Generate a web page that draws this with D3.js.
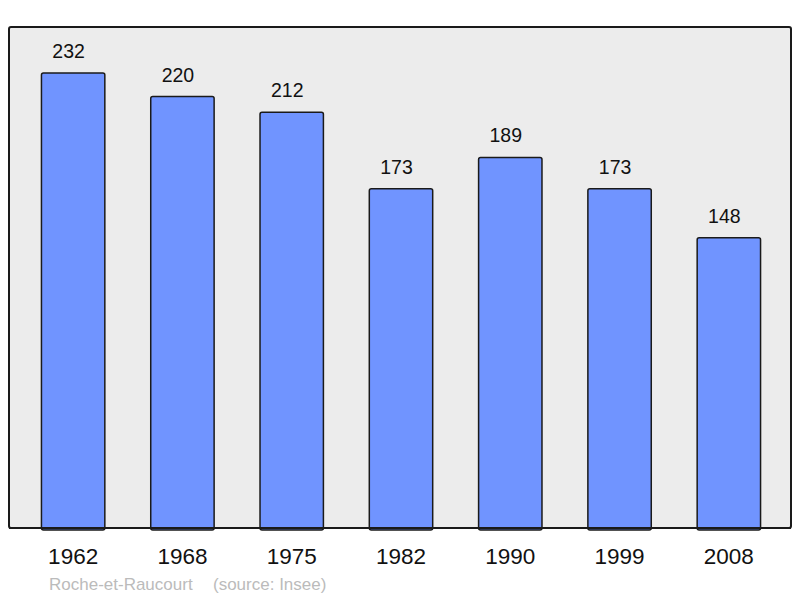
<!DOCTYPE html>
<html>
<head>
<meta charset="utf-8">
<script src="https://d3js.org/d3.v7.min.js"></script>
<style>
  body { margin: 0; background: #fff; }
  svg { display: block; font-family: "Liberation Sans", Arial, sans-serif; }
</style>
</head>
<body>
<svg id="chart" width="800" height="598"></svg>
<script>
const years = ["1962", "1968", "1975", "1982", "1990", "1999", "2008"];
const population = [232, 220, 212, 173, 189, 173, 148];
const caption = "Roche-et-Raucourt";
const source = "(source: Insee)";

const width = 800, height = 598;
const frame = { x: 9, y: 27, w: 782, h: 501 };

const svg = d3.select("#chart");

const x = d3.scaleBand()
    .domain(years)
    .range([18.5, 783.5])
    .paddingInner(0.42)
    .paddingOuter(0.21);

const y = d3.scaleLinear()
    .domain([0, 255.5])
    .range([frame.y + frame.h, frame.y]);

// frame
svg.append("rect")
    .attr("x", frame.x)
    .attr("y", frame.y)
    .attr("width", frame.w)
    .attr("height", frame.h)
    .attr("rx", 2)
    .attr("fill", "#ececec")
    .attr("stroke", "#1a1a1a")
    .attr("stroke-width", 2);

const data = years.map((d, i) => ({ year: d, value: population[i] }));

// bars
svg.append("g").selectAll("rect")
    .data(data)
    .join("rect")
    .attr("x", d => x(d.year))
    .attr("y", d => y(d.value))
    .attr("width", x.bandwidth())
    .attr("height", d => y(0) - y(d.value) + 2)
    .attr("rx", 2)
    .attr("fill", "#7094ff")
    .attr("stroke", "#1a1a1a")
    .attr("stroke-width", 1.5);

// redraw bottom line of frame over bars
svg.append("line")
    .attr("x1", frame.x)
    .attr("x2", frame.x + frame.w)
    .attr("y1", frame.y + frame.h)
    .attr("y2", frame.y + frame.h)
    .attr("stroke", "#1a1a1a")
    .attr("stroke-width", 2);

// value labels (sit a little left of bar centre, as in the original)
svg.append("g").selectAll("text")
    .data(data)
    .join("text")
    .attr("x", d => x(d.year) + x.bandwidth() / 2 - 4.5)
    .attr("y", d => y(d.value) - 15)
    .attr("text-anchor", "middle")
    .attr("font-size", 19.5)
    .attr("fill", "#111")
    .text(d => d.value);

// x axis labels
const xAxis = d3.axisBottom(x).tickSize(0).tickPadding(0);
const gx = svg.append("g")
    .attr("transform", `translate(0,${frame.y + frame.h})`)
    .call(xAxis);
gx.select(".domain").remove();
gx.selectAll("text")
    .attr("dy", null)
    .attr("y", 36)
    .attr("font-size", 22.5)
    .attr("font-family", "Liberation Sans, Arial, sans-serif")
    .attr("fill", "#111");

// caption
svg.append("text")
    .attr("x", 49)
    .attr("y", 590)
    .attr("font-size", 17)
    .attr("fill", "#bbbbbb")
    .text(caption);
svg.append("text")
    .attr("x", 213)
    .attr("y", 590)
    .attr("font-size", 17)
    .attr("fill", "#bbbbbb")
    .text(source);
</script>
</body>
</html>
